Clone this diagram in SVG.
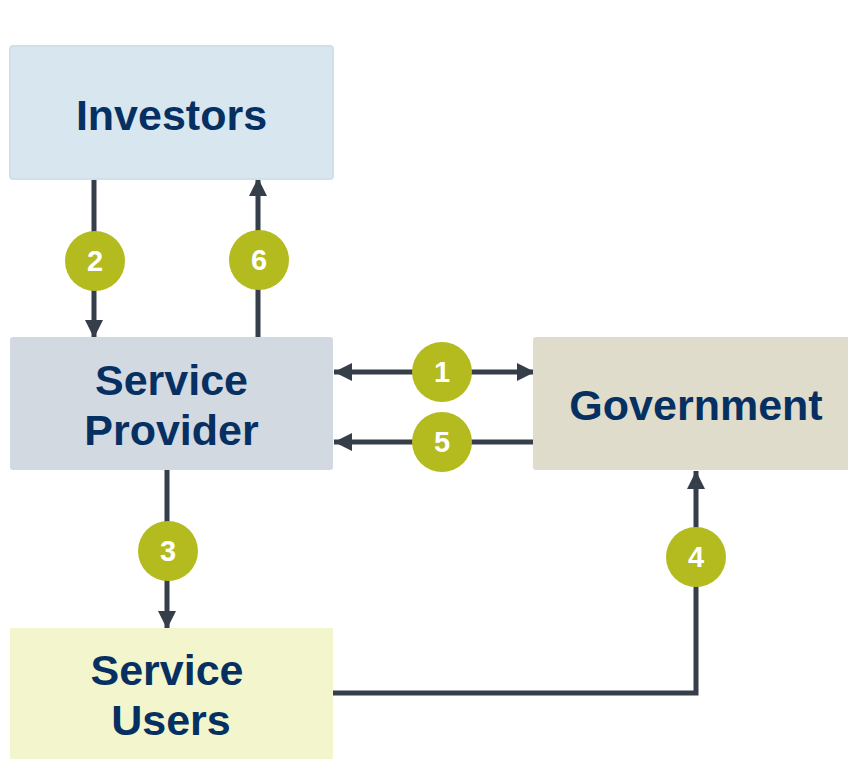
<svg xmlns="http://www.w3.org/2000/svg" width="848" height="759" viewBox="0 0 848 759">
<style>
.lbl{font-family:"Liberation Sans",Arial,sans-serif;font-weight:bold;font-size:43px;fill:#062f62;text-anchor:middle}
.num{font-family:"Liberation Sans",Arial,sans-serif;font-weight:bold;font-size:29px;fill:#ffffff;text-anchor:middle}
.ln{stroke:#363e4a;stroke-width:5;fill:none}
.badge{fill:#b3bb1f}
</style>
<defs>
<marker id="ah" viewBox="0 0 18 18" refX="18" refY="9" markerWidth="18" markerHeight="18" markerUnits="userSpaceOnUse" orient="auto-start-reverse">
<path d="M0,0 L18,9 L0,18 Z" fill="#363e4a"/>
</marker>
</defs>
<rect width="848" height="759" fill="#ffffff"/>
<g id="connectors">
<line class="ln" x1="94" y1="179" x2="94" y2="338" marker-end="url(#ah)"/>
<line class="ln" x1="258" y1="339" x2="258" y2="178" marker-end="url(#ah)"/>
<line class="ln" x1="334" y1="372" x2="535" y2="372" marker-start="url(#ah)" marker-end="url(#ah)"/>
<line class="ln" x1="535" y1="442" x2="334" y2="442" marker-end="url(#ah)"/>
<line class="ln" x1="167" y1="470" x2="167" y2="629" marker-end="url(#ah)"/>
<polyline class="ln" points="333,693 696,693 696,471" marker-end="url(#ah)"/>
</g>
<g id="investors">
<rect x="10" y="46" width="323" height="133" rx="3" fill="#d8e7ef" stroke="#cfe0ea" stroke-width="2"/>
<text class="lbl" x="171.5" y="130">Investors</text>
</g>
<g id="service-provider">
<rect x="10" y="337" width="323" height="133" rx="3" fill="#d3d9e1"/>
<text class="lbl" x="171.5" y="395">Service</text>
<text class="lbl" x="171.5" y="445">Provider</text>
</g>
<g id="government">
<rect x="533" y="337" width="320" height="133" rx="3" fill="#dfdccb"/>
<text class="lbl" x="696" y="420">Government</text>
</g>
<g id="service-users">
<rect x="10" y="628" width="323" height="131" fill="#f3f6cc"/>
<text class="lbl" x="167" y="685">Service</text>
<text class="lbl" x="171" y="735">Users</text>
</g>
<g id="badge-1"><circle class="badge" cx="442" cy="372" r="30"/><text class="num" x="442" y="382">1</text></g>
<g id="badge-2"><circle class="badge" cx="95" cy="261" r="30"/><text class="num" x="95" y="271">2</text></g>
<g id="badge-3"><circle class="badge" cx="168" cy="551" r="30"/><text class="num" x="168" y="561">3</text></g>
<g id="badge-4"><circle class="badge" cx="696" cy="557" r="30"/><text class="num" x="696" y="567">4</text></g>
<g id="badge-5"><circle class="badge" cx="442" cy="442" r="30"/><text class="num" x="442" y="452">5</text></g>
<g id="badge-6"><circle class="badge" cx="259" cy="260" r="30"/><text class="num" x="259" y="270">6</text></g>
</svg>
